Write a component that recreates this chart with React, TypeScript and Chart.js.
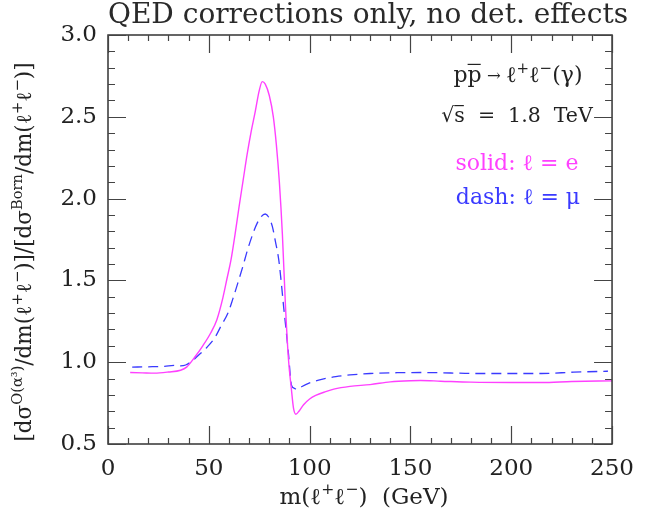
import React, { useEffect, useRef } from "react";
import { Chart, registerables } from "chart.js";

Chart.register(...registerables);

// ---- data ----
const eMass = [11, 17, 23, 30, 36, 39, 43, 47, 51, 54, 57, 59, 61, 63, 65, 67, 69, 71, 73, 75, 76.5, 78, 80, 82, 83.5, 85, 86.5, 88, 89.5, 91, 92, 93.2, 95, 97, 100, 103, 108, 112, 120, 130, 140, 150, 155, 165, 180, 200, 215, 230, 250];
const eRatio = [0.937, 0.935, 0.933, 0.94, 0.951, 0.97, 1.03, 1.1, 1.18, 1.26, 1.395, 1.51, 1.625, 1.78, 1.95, 2.11, 2.27, 2.41, 2.53, 2.66, 2.715, 2.70, 2.63, 2.50, 2.33, 2.10, 1.78, 1.35, 1.02, 0.83, 0.72, 0.682, 0.705, 0.74, 0.775, 0.797, 0.82, 0.835, 0.852, 0.863, 0.88, 0.887, 0.888, 0.884, 0.878, 0.876, 0.876, 0.882, 0.886];

const muMass = [12, 20, 28, 33, 36, 38.5, 42, 45, 49, 53, 56, 59.5, 62, 64.3, 67, 69.2, 72, 74, 76, 78, 80, 81.5, 83, 84.7, 86, 87.1, 88.3, 89.5, 91, 92.5, 93.9, 96, 100, 106, 113, 120, 130, 145, 155, 170, 181, 200, 215, 231, 248];
const muRatio = [0.97, 0.972, 0.975, 0.98, 0.978, 0.983, 1.01, 1.044, 1.09, 1.15, 1.22, 1.3, 1.39, 1.48, 1.59, 1.686, 1.79, 1.85, 1.89, 1.906, 1.88, 1.83, 1.74, 1.625, 1.48, 1.34, 1.2, 1.054, 0.86, 0.84, 0.834, 0.85, 0.873, 0.895, 0.912, 0.922, 0.931, 0.936, 0.937, 0.934, 0.931, 0.931, 0.931, 0.939, 0.945];

const xMin = 0, xMax = 250, xMajor = 50, xMinor = 10;
const yMin = 0.5, yMax = 3.0, yMajor = 0.5, yMinor = 0.1;

const titleText = "QED corrections only, no det. effects";
const FONT = '"DejaVu Serif", serif';
const TEXT = "#222";
const MAGENTA = "#ff40ff";
const BLUE = "#3a3aff";

type Seg = { t: string; s?: "sup"; over?: boolean; sc?: number; dy?: number };

function segSize(g: Seg, size: number) {
  return g.sc ? size * g.sc : g.s ? size * 0.68 : size;
}

function richWidth(ctx: CanvasRenderingContext2D, segs: Seg[], size: number) {
  let w = 0;
  for (const g of segs) {
    ctx.font = `${segSize(g, size)}px ${FONT}`;
    w += ctx.measureText(g.t).width;
  }
  return w;
}

function drawRich(ctx: CanvasRenderingContext2D, segs: Seg[], x: number, y: number, size: number, align: string, color: string) {
  const w = richWidth(ctx, segs, size);
  let cx = align === "center" ? x - w / 2 : align === "right" ? x - w : x;
  ctx.fillStyle = color;
  ctx.strokeStyle = color;
  ctx.textAlign = "left";
  ctx.textBaseline = "alphabetic";
  for (const g of segs) {
    ctx.font = `${segSize(g, size)}px ${FONT}`;
    const sw = ctx.measureText(g.t).width;
    const dy = g.dy !== undefined ? g.dy * size : g.s === "sup" ? -size * 0.42 : 0;
    ctx.fillText(g.t, cx, y + dy);
    if (g.over) {
      ctx.lineWidth = 1.2;
      ctx.beginPath();
      ctx.moveTo(cx, y - size * 0.8);
      ctx.lineTo(cx + sw - 1, y - size * 0.8);
      ctx.stroke();
    }
    cx += sw;
  }
}

const decorPlugin = {
  id: "decor",
  afterDraw(chart: any) {
    const { ctx, chartArea: a, scales } = chart;
    const xs = scales.x, ys = scales.y;
    ctx.save();
    // frame
    ctx.strokeStyle = "#333";
    ctx.lineWidth = 1.5;
    ctx.strokeRect(a.left, a.top, a.right - a.left, a.bottom - a.top);
    ctx.lineWidth = 1.2;
    ctx.strokeStyle = "#444";
    ctx.beginPath();
    for (let v = xMin; v <= xMax + 1e-6; v += xMinor) {
      const px = Math.round(xs.getPixelForValue(v)) + 0.5;
      const major = Math.abs(v / xMajor - Math.round(v / xMajor)) < 1e-6;
      const len = major ? 18 : 6;
      ctx.moveTo(px, a.bottom); ctx.lineTo(px, a.bottom - len);
      ctx.moveTo(px, a.top); ctx.lineTo(px, a.top + len);
    }
    for (let i = 0; i <= Math.round((yMax - yMin) / yMinor); i++) {
      const v = yMin + i * yMinor;
      const py = Math.round(ys.getPixelForValue(v)) + 0.5;
      const major = i % Math.round(yMajor / yMinor) === 0;
      const len = major ? 18 : 7;
      ctx.moveTo(a.left, py); ctx.lineTo(a.left + len, py);
      ctx.moveTo(a.right, py); ctx.lineTo(a.right - len, py);
    }
    ctx.stroke();

    // title
    drawRich(ctx, [{ t: titleText }], 368, 23, 28, "center", "#2a2a2a");

    // x axis title
    drawRich(ctx, [
      { t: "m(ℓ" }, { t: "+", s: "sup" }, { t: "ℓ" }, { t: "−", s: "sup" }, { t: ")  (GeV)" },
    ], 364, 504, 23, "center", TEXT);

    // y axis title (rotated)
    ctx.save();
    ctx.translate(31, 252);
    ctx.rotate(-Math.PI / 2);
    drawRich(ctx, [
      { t: "[dσ" }, { t: "O(α³)", s: "sup" }, { t: "/dm(ℓ" }, { t: "+", s: "sup" }, { t: "ℓ" }, { t: "−", s: "sup" },
      { t: ")]/[dσ" }, { t: "Born", s: "sup" }, { t: "/dm(ℓ" }, { t: "+", s: "sup" }, { t: "ℓ" }, { t: "−", s: "sup" }, { t: ")]" },
    ], 0, 0, 21.5, "center", TEXT);
    ctx.restore();

    // annotations
    drawRich(ctx, [
      { t: "p" }, { t: "p", over: true }, { t: " → ", sc: 0.75, dy: -0.06 }, { t: "ℓ" }, { t: "+", s: "sup" }, { t: "ℓ" }, { t: "−", s: "sup" }, { t: "(γ)" },
    ], 518, 82, 22, "center", TEXT);
    drawRich(ctx, [{ t: "√" }, { t: "s", over: true }, { t: "  =  1.8  TeV" }], 517, 122, 20.5, "center", TEXT);
    drawRich(ctx, [{ t: "solid: ℓ = e" }], 517, 170, 22, "center", MAGENTA);
    drawRich(ctx, [{ t: "dash: ℓ = μ" }], 518, 204, 22, "center", BLUE);
    ctx.restore();
  },
};

export default function App() {
  const ref = useRef<HTMLCanvasElement>(null);
  useEffect(() => {
    const canvas = ref.current!;
    const chart = new Chart(canvas, {
      type: "line",
      data: {
        datasets: [
          {
            label: "l = e",
            data: eMass.map((m, i) => ({ x: m, y: eRatio[i] })),
            borderColor: MAGENTA,
            borderWidth: 1.4,
            pointRadius: 0,
            cubicInterpolationMode: "monotone",
            fill: false,
          },
          {
            label: "l = mu",
            data: muMass.map((m, i) => ({ x: m, y: muRatio[i] })),
            borderColor: BLUE,
            borderWidth: 1.3,
            borderDash: [10, 6],
            pointRadius: 0,
            cubicInterpolationMode: "monotone",
            fill: false,
          },
        ],
      },
      options: {
        responsive: false,
        animation: false,
        devicePixelRatio: 1,
        layout: { padding: { left: 0, right: 24, top: 35, bottom: 0 } },
        plugins: { legend: { display: false }, tooltip: { enabled: false }, title: { display: false } },
        scales: {
          x: {
            type: "linear",
            min: xMin,
            max: xMax,
            grid: { display: false, drawTicks: false },
            border: { display: false },
            ticks: {
              stepSize: xMajor,
              padding: 11,
              color: TEXT,
              font: { family: FONT, size: 23 },
              maxRotation: 0,
            },
            afterFit: (s: any) => { s.height = 74; },
          },
          y: {
            type: "linear",
            min: yMin,
            max: yMax,
            grid: { display: false, drawTicks: false },
            border: { display: false },
            ticks: {
              stepSize: yMajor,
              padding: 11,
              color: TEXT,
              font: { family: FONT, size: 23 },
              callback: (v: any) => Number(v).toFixed(1),
            },
            afterFit: (s: any) => { s.width = 108; },
          },
        },
      },
      plugins: [decorPlugin],
    } as any);
    return () => chart.destroy();
  }, []);
  return (
    <div style={{ position: "fixed", left: 0, top: 0, width: 645, height: 518, background: "#fff" }}>
      <canvas ref={ref} width={645} height={518} style={{ width: 645, height: 518, display: "block" }} />
    </div>
  );
}
